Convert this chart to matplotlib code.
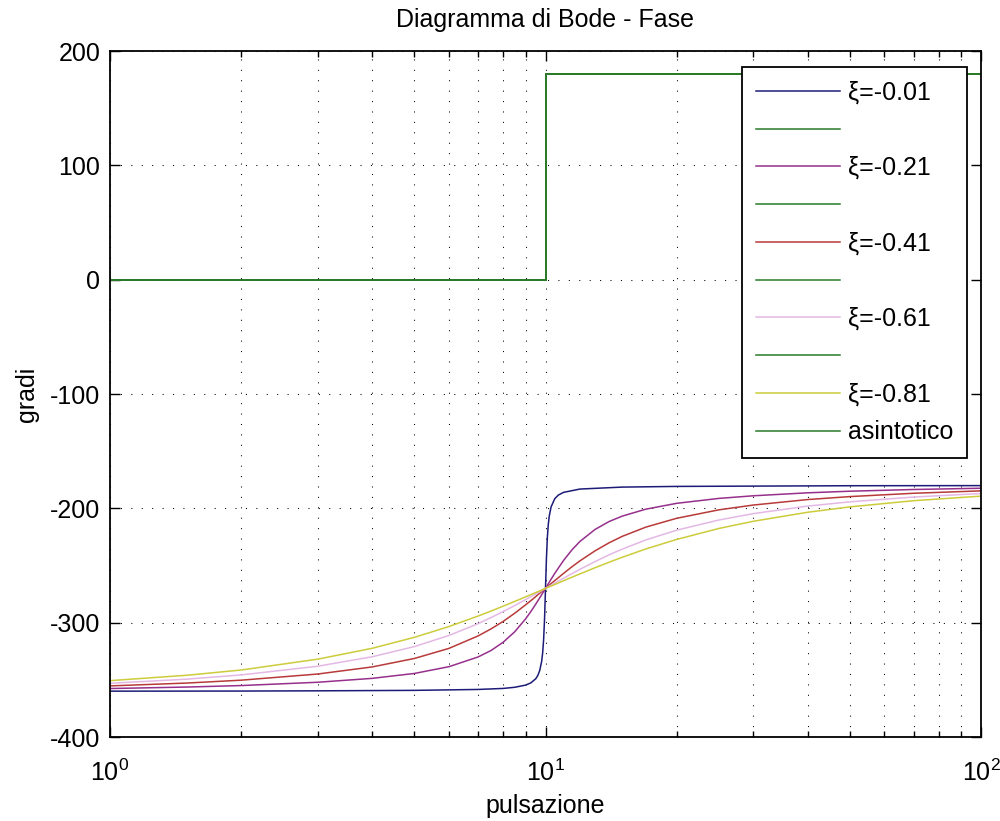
import matplotlib
matplotlib.use("Agg")
import matplotlib.pyplot as plt
from matplotlib.ticker import LogLocator, NullFormatter

plt.rcParams['font.family'] = ['Liberation Sans', 'DejaVu Sans']
plt.rcParams['mathtext.default'] = 'regular'
plt.rcParams['axes.unicode_minus'] = False

# pulsazioni e fasi lette per ogni smorzamento
w_sharp = [1, 2, 3, 5, 7, 8, 8.5, 9, 9.25, 9.5, 9.6, 9.7, 9.8, 9.85, 9.9, 9.95, 10,
           10.05, 10.1, 10.15, 10.2, 10.3, 10.5, 10.7, 11, 12, 15, 20, 50, 100]
fase_001 = [-359.9, -359.8, -359.6, -359.2, -358.4, -357.5, -356.5, -354.6, -352.7, -349.0,
            -346.2, -341.8, -333.7, -326.5, -315.1, -296.6, -270.0, -243.5, -225.1, -213.9,
            -206.8, -198.7, -191.6, -188.4, -186.0, -183.1, -181.4, -180.8, -180.2, -180.1]

w = [1, 1.5, 2, 3, 4, 5, 6, 7, 7.5, 8, 8.5, 9, 9.25, 9.5, 9.75, 10, 10.25, 10.5, 11, 11.5,
     12, 13, 14, 15, 17, 20, 25, 30, 40, 50, 70, 100]
fase_021 = [-357.6, -356.3, -355.0, -352.1, -348.7, -344.4, -338.5, -330.0, -324.3, -317.0,
            -307.9, -296.7, -290.4, -283.7, -276.9, -270.0, -263.3, -256.9, -245.6, -236.3,
            -228.9, -218.4, -211.5, -206.8, -200.7, -195.6, -191.3, -189.0, -186.4, -185.0,
            -183.5, -182.4]
fase_041 = [-355.3, -352.8, -350.3, -344.9, -338.7, -331.3, -322.5, -311.6, -305.4, -298.8,
            -291.7, -284.4, -280.8, -277.1, -273.5, -270.0, -266.5, -263.2, -256.9, -251.1,
            -245.9, -237.1, -230.1, -224.5, -216.4, -208.7, -201.3, -197.1, -192.3, -189.7,
            -186.8, -184.7]
fase_061 = [-353.0, -349.4, -345.7, -338.1, -329.8, -320.9, -311.2, -300.9, -295.5, -290.2,
            -285.0, -279.8, -277.3, -274.8, -272.4, -270.0, -267.7, -265.4, -261.1, -257.1,
            -253.3, -246.5, -240.6, -235.7, -227.6, -219.1, -210.2, -204.6, -198.0, -194.3,
            -190.1, -187.0]
fase_081 = [-350.7, -346.0, -341.4, -331.9, -322.4, -312.8, -303.4, -294.2, -289.8, -285.5,
            -281.4, -277.4, -275.5, -273.6, -271.8, -270.0, -268.3, -266.6, -263.3, -260.2,
            -257.3, -251.9, -247.1, -242.8, -235.5, -227.2, -217.6, -211.3, -203.4, -198.7,
            -193.3, -189.3]

# diagramma asintotico
w_asint = [1, 10, 10, 100]
fase_asint = [0, 0, 180, 180]

etichette = ['ξ=-0.01', 'ξ=-0.21', 'ξ=-0.41', 'ξ=-0.61', 'ξ=-0.81']
colori = ['#1c1c78', '#96308c', '#b83a3a', '#e4b8e4', '#cccc3c']
verde = '#2a7a2a'

curve = [(w_sharp, fase_001), (w, fase_021), (w, fase_041), (w, fase_061), (w, fase_081)]

fig = plt.figure(figsize=(10, 8.21), dpi=100)
ax = fig.add_axes([0.11, 0.1023, 0.871, 0.8355])

handles = []
labels = []
for i, (x, y) in enumerate(curve):
    h1, = ax.plot(x, y, color=colori[i], lw=1.1)
    h2, = ax.plot(w_asint, fase_asint, color=verde, lw=1.1)
    handles += [h1, h2]
    labels += [etichette[i], '']
labels[-1] = 'asintotico'

ax.set_xscale('log')
ax.set_xlim(1, 100)
ax.set_ylim(-400, 200)
ax.set_yticks(range(-400, 201, 100))
ax.xaxis.set_minor_locator(LogLocator(base=10, subs=range(2, 10)))
ax.xaxis.set_minor_formatter(NullFormatter())

ax.grid(True, which='major', color='black', linestyle=(0, (1, 9)), lw=0.75)
ax.grid(True, which='minor', axis='x', color='black', linestyle=(0, (1, 9)), lw=0.75)

ax.tick_params(which='both', direction='in', top=True, right=True, labelsize=18, width=1)
ax.tick_params(which='major', length=7)
ax.tick_params(which='minor', length=4)
ax.tick_params(axis='x', pad=16)
ax.tick_params(axis='y', pad=7)
for s in ax.spines.values():
    s.set_linewidth(1.3)

ax.set_title('Diagramma di Bode - Fase', fontsize=18, pad=17)
ax.set_xlabel('pulsazione', fontsize=18, labelpad=6)
ax.set_ylabel('gradi', fontsize=18, labelpad=8)

leg = ax.legend(handles, labels, loc='upper right', bbox_to_anchor=(0.984, 0.977),
                borderaxespad=0, fontsize=18, fancybox=False, framealpha=1, edgecolor='black',
                handlelength=3.35, handletextpad=0.32, labelspacing=0.55, borderpad=0.55)
leg.get_frame().set_linewidth(1.3)

plt.savefig('out.png')
plt.close()
